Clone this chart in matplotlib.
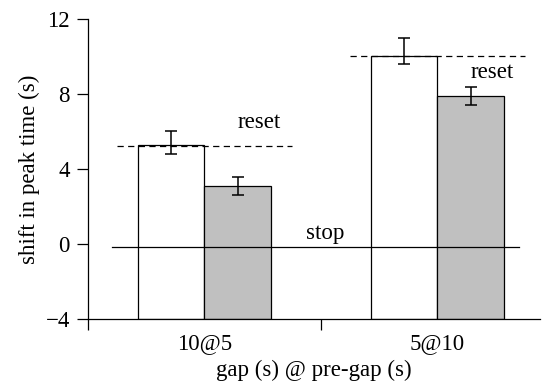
import matplotlib.pyplot as plt
import numpy as np

# data
categories = ['10@5', '5@10']
white_vals = [5.3, 10.05]
white_err_lo = [0.5, 0.47]
white_err_hi = [0.7, 0.95]
gray_vals = [3.1, 7.9]
gray_err = [0.5, 0.47]
reset_levels = [5.2, 10.0]
stop_level = -0.15

plt.rcParams['font.family'] = ['Liberation Serif', 'DejaVu Serif']
plt.rcParams['font.size'] = 16.5

fig = plt.figure(figsize=(5.57, 3.85), dpi=100)
W, H = 557, 385
ax = fig.add_axes([88 / W, (H - 319) / H, (540 - 88) / W, 300 / H])

centers = np.arange(len(categories)) + 0.5
bw = 0.285
ymin = -4

# bars rise from the bottom of the axis (-4)
ax.bar(centers - bw / 2, np.array(white_vals) - ymin, bw, bottom=ymin,
       color='white', edgecolor='black', linewidth=0.9, zorder=2)
ax.bar(centers + bw / 2, np.array(gray_vals) - ymin, bw, bottom=ymin,
       color='#c0c0c0', edgecolor='black', linewidth=0.9, zorder=2)

ax.errorbar(centers - bw / 2, white_vals, yerr=[white_err_lo, white_err_hi],
            fmt='none', ecolor='black', elinewidth=1.1, capsize=4.5,
            capthick=1.1, zorder=4)
ax.errorbar(centers + bw / 2, gray_vals, yerr=gray_err,
            fmt='none', ecolor='black', elinewidth=1.1, capsize=4.5,
            capthick=1.1, zorder=4)

# reset reference lines
for c, lvl in zip(centers, reset_levels):
    ax.plot([c - 0.375, c + 0.375], [lvl, lvl], color='black', lw=0.9,
            dashes=(5, 3.5), zorder=3)
ax.text(centers[0] + 0.234, 6.47, 'reset', ha='center', va='center')
ax.text(centers[1] + 0.236, 9.17, 'reset', ha='center', va='center')

# stop line
ax.plot([0.103, 1.85], [stop_level, stop_level], color='black', lw=0.9,
        zorder=3)
ax.text(1.017, 0.55, 'stop', ha='center', va='center')

ax.set_xlim(0, 1.94)
ax.set_ylim(ymin, 12)
ax.set_yticks([-4, 0, 4, 8, 12])
ax.set_xticks([0, 1])
ax.set_xticklabels([])
ax.set_xticks(centers, minor=True)
ax.set_xticklabels(categories, minor=True)
ax.tick_params(axis='x', which='minor', length=0, pad=10)
ax.tick_params(axis='x', which='major', direction='out', length=8, width=0.9)
ax.tick_params(axis='y', direction='out', length=8, width=0.9, pad=5)

for s in ['top', 'right']:
    ax.spines[s].set_visible(False)
for s in ['left', 'bottom']:
    ax.spines[s].set_linewidth(0.9)

ax.set_xlabel('gap (s) @ pre-gap (s)', labelpad=4)
ax.set_ylabel('shift in peak time (s)', labelpad=4)

fig.savefig('out.png', dpi=100)
